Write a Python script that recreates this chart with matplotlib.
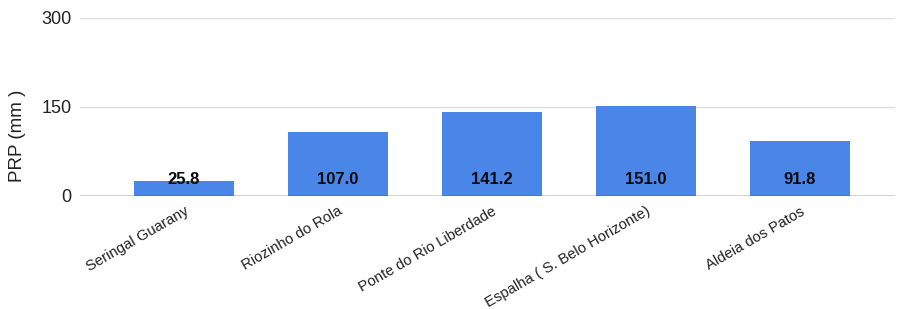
import matplotlib
matplotlib.use("Agg")
import matplotlib.pyplot as plt
import matplotlib.transforms as mtransforms

# Dados do grafico
locais = ["Seringal Guarany", "Riozinho do Rola", "Ponte do Rio Liberdade",
          "Espalha ( S. Belo Horizonte)", "Aldeia dos Patos"]
prp = [25.8, 107.0, 141.2, 151.0, 91.8]
y_ticks = [0, 150, 300]

plt.rcParams["font.family"] = ["Liberation Sans", "DejaVu Sans"]

fig = plt.figure(figsize=(8.99, 3.09), dpi=100)
ax = fig.add_axes([0.089, 0.366, 0.907, 0.576])

x = range(len(locais))
ax.bar(x, prp, width=0.65, color="#4a86e8", zorder=3)

# Rotulos dos valores perto da base
for xi, v in zip(x, prp):
    ax.annotate(f"{v:.1f}", (xi, 0), xytext=(0, 12), textcoords="offset points",
                ha="center", va="center", fontsize=12, fontweight="bold",
                color="#0a0a0a", zorder=4)

ax.set_ylim(0, 300)
ax.set_xlim(-0.675, 4.62)
ax.set_yticks(y_ticks)
ax.set_yticklabels([str(t) for t in y_ticks], fontsize=13, color="#222222")
ax.grid(axis="y", color="#dddddd", linewidth=1, zorder=0)
ax.axhline(0, color="#333333", linewidth=1, zorder=5)

ax.set_xticks(list(x))
ax.set_xticklabels(locais, rotation=30, ha="right", rotation_mode="anchor",
                   fontsize=10.7, color="#222222")
offset = mtransforms.ScaledTranslation(10 / 72, -4 / 72, fig.dpi_scale_trans)
for lab in ax.get_xticklabels():
    lab.set_transform(lab.get_transform() + offset)

ax.tick_params(axis="both", length=0, pad=6)
ax.tick_params(axis="y", pad=6)
for s in ax.spines.values():
    s.set_visible(False)

ax.set_ylabel("PRP (mm )", fontsize=13.5, color="#222222")
ax.yaxis.set_label_coords(-0.066, 0.34)

fig.savefig("out.png", dpi=100)
